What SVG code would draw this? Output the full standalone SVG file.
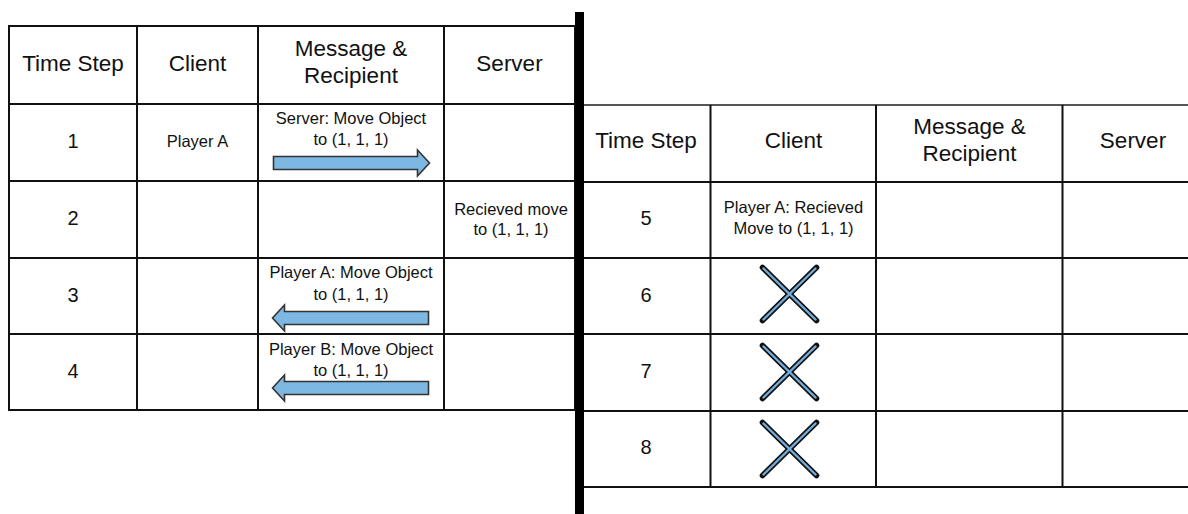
<svg xmlns="http://www.w3.org/2000/svg" xmlns:xlink="http://www.w3.org/1999/xlink" width="1188" height="514" viewBox="0 0 1188 514">
  <style>
    text { font-family: "Liberation Sans", Arial, sans-serif; fill: #111; text-anchor: middle; }
    .hdr { font-size: 22.5px; }
    .num { font-size: 20px; }
    .sm { font-size: 16.5px; }
    .grid { stroke: #111; stroke-width: 2; fill: none; }
    .arrow { fill: #7db8e3; stroke: #333; stroke-width: 1.6; stroke-linejoin: miter; }
    .xo { stroke: #111; stroke-width: 5.6; stroke-linecap: round; }
    .xi { stroke: #74addb; stroke-width: 2.4; stroke-linecap: round; }
  </style>
  <defs>
    <!-- block arrow pointing left, tip at origin -->
    <path id="arrowLeft" d="M156,-6.5 L12,-6.5 L12,-13 L0,0 L12,13 L12,6.5 L156,6.5 Z"/>
    <!-- cancelled message mark -->
    <g id="cross">
      <line class="xo" x1="-27" y1="-26.5" x2="27" y2="26.5"/>
      <line class="xo" x1="-27" y1="26.5" x2="27" y2="-26.5"/>
      <line class="xi" x1="-26" y1="-25.5" x2="26" y2="25.5"/>
      <line class="xi" x1="-26" y1="25.5" x2="26" y2="-25.5"/>
    </g>
  </defs>
  <rect width="1188" height="514" fill="#fff"/>

  <!-- left table: steps 1-4 -->
  <g id="table-left">
    <g class="grid">
      <rect x="9" y="26" width="566" height="384"/>
      <line x1="9" y1="104" x2="575" y2="104"/>
      <line x1="9" y1="181" x2="575" y2="181"/>
      <line x1="9" y1="258" x2="575" y2="258"/>
      <line x1="9" y1="334" x2="575" y2="334"/>
      <line x1="137" y1="26" x2="137" y2="410"/>
      <line x1="258" y1="26" x2="258" y2="410"/>
      <line x1="444" y1="26" x2="444" y2="410"/>
    </g>
    <g id="left-header">
      <text class="hdr" x="73" y="71">Time Step</text>
      <text class="hdr" x="197.5" y="71">Client</text>
      <text class="hdr" x="351" y="55.5">Message &amp;</text>
      <text class="hdr" x="351" y="82.7">Recipient</text>
      <text class="hdr" x="509.5" y="70.5">Server</text>
    </g>
    <g id="step-1">
      <text class="num" x="73" y="148">1</text>
      <text class="sm" x="197.5" y="146.7">Player A</text>
      <text class="sm" x="351" y="124.3">Server: Move Object</text>
      <text class="sm" x="351" y="144.8">to (1, 1, 1)</text>
    </g>
    <g id="step-2">
      <text class="num" x="73" y="225">2</text>
      <text class="sm" x="511" y="214.5">Recieved move</text>
      <text class="sm" x="511" y="234.5">to (1, 1, 1)</text>
    </g>
    <g id="step-3">
      <text class="num" x="73" y="302">3</text>
      <text class="sm" x="351" y="278.3">Player A: Move Object</text>
      <text class="sm" x="351" y="299.5">to (1, 1, 1)</text>
    </g>
    <g id="step-4">
      <text class="num" x="73" y="378">4</text>
      <text class="sm" x="351" y="355">Player B: Move Object</text>
      <text class="sm" x="351" y="376.2">to (1, 1, 1)</text>
    </g>
  </g>

  <!-- divider between the two tables -->
  <rect id="divider" x="575" y="12" width="9" height="502" fill="#000"/>

  <!-- right table: steps 5-8 -->
  <g id="table-right">
    <g class="grid">
      <line x1="584" y1="105" x2="1188" y2="105" stroke="#555"/>
      <line x1="584" y1="182" x2="1188" y2="182"/>
      <line x1="584" y1="258" x2="1188" y2="258"/>
      <line x1="584" y1="334" x2="1188" y2="334"/>
      <line x1="584" y1="411" x2="1188" y2="411"/>
      <line x1="584" y1="487" x2="1188" y2="487"/>
      <line x1="710.5" y1="105" x2="710.5" y2="487"/>
      <line x1="876" y1="105" x2="876" y2="487"/>
      <line x1="1062.5" y1="105" x2="1062.5" y2="487"/>
    </g>
    <g id="right-header">
      <text class="hdr" x="646" y="147.7">Time Step</text>
      <text class="hdr" x="793.5" y="147.7">Client</text>
      <text class="hdr" x="969.5" y="134.3">Message &amp;</text>
      <text class="hdr" x="969.5" y="161">Recipient</text>
      <text class="hdr" x="1133" y="148">Server</text>
    </g>
    <g id="step-5">
      <text class="num" x="646" y="225">5</text>
      <text class="sm" x="793.5" y="213.3">Player A: Recieved</text>
      <text class="sm" x="793.5" y="233.5">Move to (1, 1, 1)</text>
    </g>
    <g id="step-6">
      <text class="num" x="646" y="302">6</text>
      <use xlink:href="#cross" x="789.5" y="294"/>
    </g>
    <g id="step-7">
      <text class="num" x="646" y="377.5">7</text>
      <use xlink:href="#cross" x="789.5" y="372"/>
    </g>
    <g id="step-8">
      <text class="num" x="646" y="454">8</text>
      <use xlink:href="#cross" x="789.5" y="449"/>
    </g>
  </g>

  <!-- message arrows -->
  <g id="connectors">
    <use class="arrow" xlink:href="#arrowLeft" transform="translate(429.5,163) scale(-1,1)"/>
    <use class="arrow" xlink:href="#arrowLeft" transform="translate(272.5,318)"/>
    <use class="arrow" xlink:href="#arrowLeft" transform="translate(272.5,388)"/>
  </g>
</svg>
